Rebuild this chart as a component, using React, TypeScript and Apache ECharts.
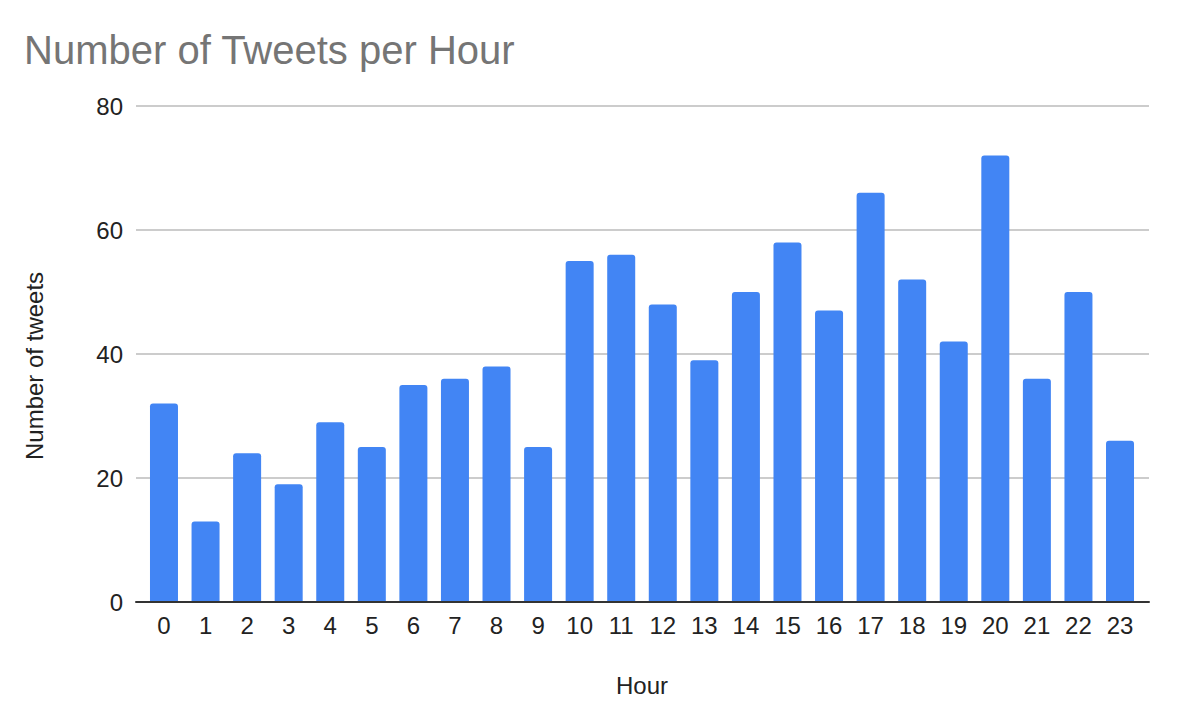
import React, { useEffect, useRef } from "react";
import * as echarts from "echarts";

const hours = ["0","1","2","3","4","5","6","7","8","9","10","11","12","13","14","15","16","17","18","19","20","21","22","23"];
const tweets = [32,13,24,19,29,25,35,36,38,25,55,56,48,39,50,58,47,66,52,42,72,36,50,26];
const yTicks = { min: 0, max: 80, interval: 20 };

export default function App() {
  const ref = useRef<HTMLDivElement>(null);
  useEffect(() => {
    if (!ref.current) return;
    const chart = echarts.init(ref.current, null, { renderer: "svg" });
    const font = "Arial, 'Liberation Sans', sans-serif";
    chart.setOption({
      animation: false,
      backgroundColor: "#ffffff",
      title: {
        text: "Number of Tweets per Hour",
        left: 19,
        top: 25,
        textStyle: { fontFamily: font, fontSize: 40, fontWeight: "normal", color: "#757575" },
      },
      grid: [
        { left: 136, right: 29, top: 106, bottom: 110 },
        { left: 143.2, right: 37.2, top: 106, bottom: 110 },
      ],
      xAxis: [
        {
          type: "value", gridIndex: 0, min: 0, max: 1,
          axisLine: { show: true, lineStyle: { color: "#333333", width: 2 } },
          axisTick: { show: false }, axisLabel: { show: false }, splitLine: { show: false },
          z: 10,
        },
        {
          type: "category", gridIndex: 1, data: hours,
          axisLine: { show: false }, axisTick: { show: false },
          axisLabel: { fontFamily: font, fontSize: 24, color: "#222222", margin: 11, interval: 0 },
        },
      ],
      yAxis: [
        {
          type: "value", gridIndex: 0, min: yTicks.min, max: yTicks.max, interval: yTicks.interval,
          axisLine: { show: false }, axisTick: { show: false },
          axisLabel: { fontFamily: font, fontSize: 24, color: "#222222", margin: 13 },
          splitLine: { lineStyle: { color: "#cccccc", width: 2 } },
        },
        {
          type: "value", gridIndex: 1, min: yTicks.min, max: yTicks.max, interval: yTicks.interval,
          show: false, splitLine: { show: false },
        },
      ],
      graphic: [
        {
          type: "text", left: 616, top: 673,
          style: { text: "Hour", fontFamily: font, fontSize: 24, fill: "#222222" },
        },
        {
          type: "text", x: 22, y: 460, rotation: Math.PI / 2,
          style: { text: "Number of tweets", fontFamily: font, fontSize: 24, fill: "#222222", textVerticalAlign: "top" },
        },
      ],
      series: [
        {
          type: "bar", xAxisIndex: 1, yAxisIndex: 1, data: tweets, barWidth: 28,
          itemStyle: { color: "#4285F4", borderRadius: [3, 3, 0, 0] },
        },
      ],
    });
    return () => chart.dispose();
  }, []);
  return <div ref={ref} style={{ position: "absolute", left: 0, top: 0, width: 1178, height: 712 }} />;
}
